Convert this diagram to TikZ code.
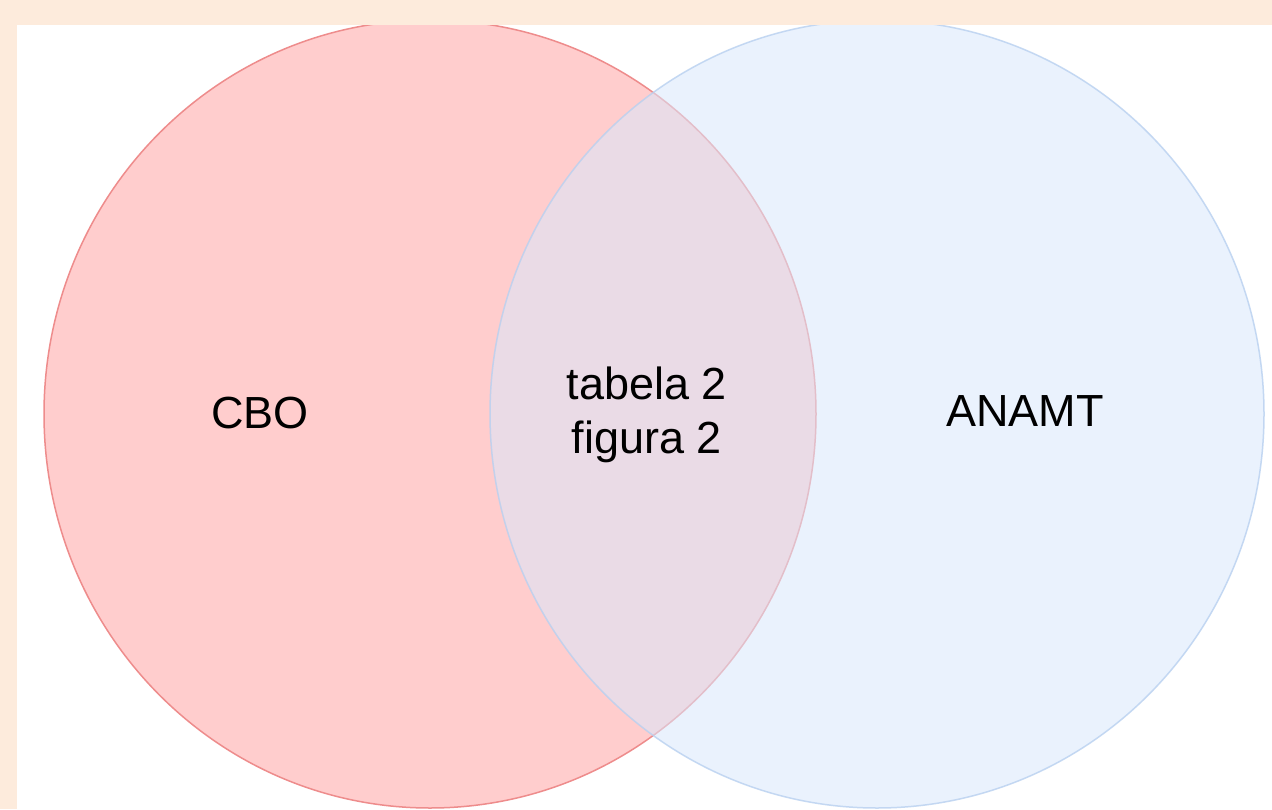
\documentclass[tikz,border=0pt]{standalone}
\usepackage{fontspec}
\setmainfont{Liberation Sans}
\definecolor{peach}{HTML}{FDEBDC}
\definecolor{redfill}{HTML}{FFCDCD}
\definecolor{redline}{HTML}{EE8C8C}
\definecolor{bluefill}{HTML}{DAE8FC}
\definecolor{blueline}{HTML}{B8D0F0}
\tikzset{
  setlabel/.style={font=\fontsize{45}{54}\selectfont, align=center, text=black},
}
\begin{document}
\begin{tikzpicture}[x=1pt,y=-1pt]
\useasboundingbox (0,0) rectangle (1272,809);
\fill[peach] (0,0) rectangle (1272,809);
\fill[white] (17,25) rectangle (1272,809);
\begin{scope}
\clip (17,25) rectangle (1272,809);
\draw[fill=redfill, draw=redline, line width=1.5pt] (430,414) ellipse [x radius=386, y radius=394];
\draw[fill=bluefill, fill opacity=0.55, draw=blueline, draw opacity=0.8, line width=1.5pt] (877,414) ellipse [x radius=387, y radius=394];
\end{scope}
\node[setlabel] (cbo) at (260,413) {CBO};
\node[setlabel] (mid) at (647,415) {tabela 2\\figura 2};
\node[setlabel] (anamt) at (1025,411) {ANAMT};
\end{tikzpicture}
\end{document}
